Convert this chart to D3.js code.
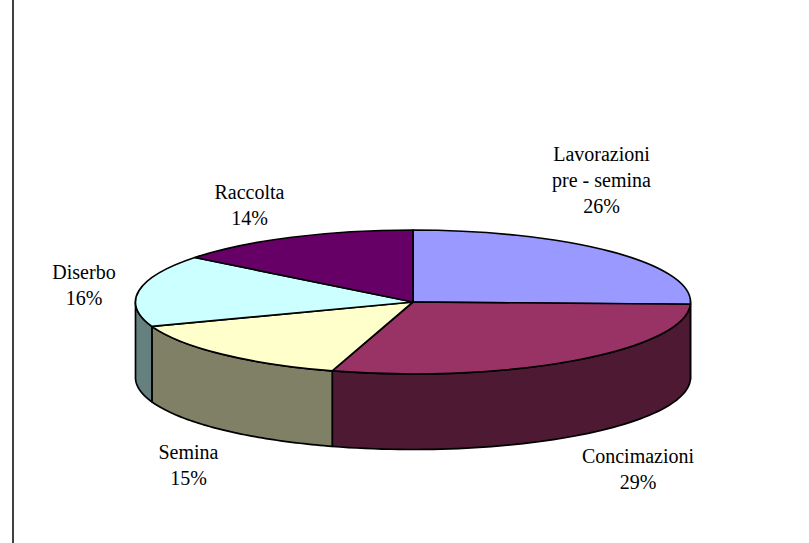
<!DOCTYPE html>
<html>
<head>
<meta charset="utf-8">
<script src="https://cdn.jsdelivr.net/npm/d3@7"></script>
<style>
  html, body { margin: 0; padding: 0; background: #fff; }
  svg { display: block; }
  text { font-family: "Liberation Serif", serif; font-size: 20px; fill: #000; }
</style>
</head>
<body>
<script>
const categories = ["Lavorazioni pre - semina", "Concimazioni", "Semina", "Diserbo", "Raccolta"];
const values = [25.5, 29.2, 14.8, 16.1, 14.4];
const topColors = ["#9999ff", "#993366", "#ffffcc", "#ccffff", "#660066"];
const sideColors = ["#4d4d80", "#4d1933", "#808066", "#668080", "#330033"];
const labelLines = [["Lavorazioni", "pre - semina"], ["Concimazioni"], ["Semina"], ["Diserbo"], ["Raccolta"]];
const labelPos = [[601.5, 160.5], [638, 463], [188.5, 459], [84, 278.5], [249.5, 198.5]];

const width = 809, height = 543;
const cx = 413, cy = 302, rx = 277.5, ry = 72, depth = 75.5;

const svg = d3
  .select("body")
  .append("svg")
  .attr("width", width)
  .attr("height", height);

// left frame line
svg
  .append("line")
  .attr("x1", 13)
  .attr("x2", 13)
  .attr("y1", 0)
  .attr("y2", height)
  .attr("stroke", "#000")
  .attr("stroke-width", 1.5);

const pie = d3.pie().sort(null).value((d) => d);
const arcs = pie(values);

// point on the tilted rim for a pie angle (0 = 12 o'clock, clockwise)
const rimX = (a) => cx + rx * Math.sin(a);
const rimY = (a) => cy - ry * Math.cos(a);

function sidePath(d) {
  const a0 = Math.max(d.startAngle, Math.PI / 2);
  const a1 = Math.min(d.endAngle, (3 * Math.PI) / 2);
  if (a1 <= a0) return null;
  const steps = d3.range(0, 61).map((i) => a0 + ((a1 - a0) * i) / 60);
  const pts = steps.map((a) => [rimX(a), rimY(a)]);
  const bottom = steps.slice().reverse().map((a) => [rimX(a), rimY(a) + depth]);
  return d3.line()(pts.concat(bottom)) + "Z";
}

// side walls
svg
  .append("g")
  .selectAll("path")
  .data(arcs.filter((d) => sidePath(d)))
  .enter()
  .append("path")
  .attr("d", sidePath)
  .attr("fill", (d) => sideColors[d.index])
  .attr("stroke", "#000")
  .attr("stroke-width", 1.7)
  .attr("stroke-linejoin", "round");

// top face, unit radius 100 squashed into the ellipse
const arc = d3.arc().innerRadius(0).outerRadius(100);
svg
  .append("g")
  .attr("transform", `translate(${cx},${cy}) scale(${rx / 100},${ry / 100})`)
  .selectAll("path")
  .data(arcs)
  .enter()
  .append("path")
  .attr("d", arc)
  .attr("fill", (d) => topColors[d.index])
  .attr("stroke", "#000")
  .attr("stroke-width", 1.7)
  .attr("stroke-linejoin", "round")
  .attr("vector-effect", "non-scaling-stroke");

// labels
const lineH = 26;
const label = svg
  .append("g")
  .selectAll("text")
  .data(arcs)
  .enter()
  .append("text")
  .attr("text-anchor", "middle");

label.each(function (d) {
  const t = d3.select(this);
  const lines = labelLines[d.index].concat(Math.round(d.value) + "%");
  lines.forEach((s, i) => {
    t.append("tspan")
      .attr("x", labelPos[d.index][0])
      .attr("y", labelPos[d.index][1] + i * lineH)
      .text(s);
  });
});
</script>
</body>
</html>
